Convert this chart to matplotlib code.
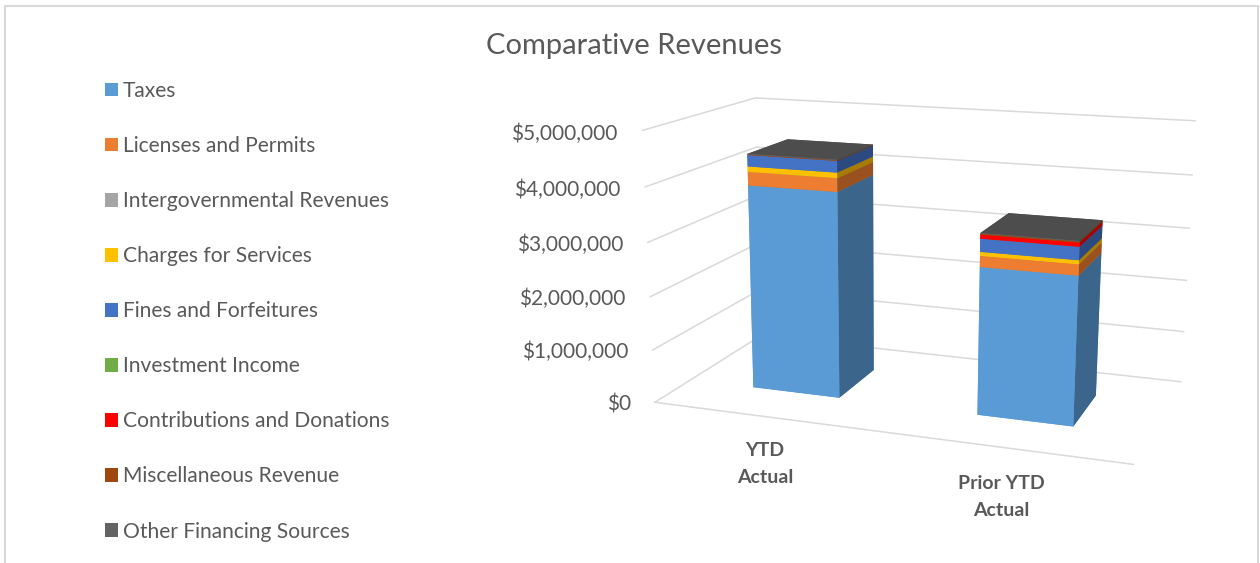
import numpy as np
import matplotlib
matplotlib.use('Agg')
from matplotlib import pyplot as plt
from matplotlib.colors import to_rgb
from matplotlib.patches import Patch, Rectangle
from mpl_toolkits.mplot3d import Axes3D

categories = ['YTD\nActual', 'Prior YTD\nActual']
series_names = ['Taxes', 'Licenses and Permits', 'Intergovernmental Revenues', 'Charges for Services',
                'Fines and Forfeitures', 'Investment Income', 'Contributions and Donations',
                'Miscellaneous Revenue', 'Other Financing Sources']
series_colors = ['#5B9BD5', '#ED7D31', '#A5A5A5', '#FFC000', '#4472C4', '#70AD47', '#FF0000', '#9E480E', '#636363']

taxes = [3860000, 2720000]
licenses = [250000, 200000]
intergov = [0, 0]
charges = [100000, 70000]
fines = [210000, 235000]
investment = [0, 0]
contributions = [0, 70000]
misc = [10000, 20000]
other = [10000, 10000]
all_series = [taxes, licenses, intergov, charges, fines, investment, contributions, misc, other]

y_ticks = [0, 1000000, 2000000, 3000000, 4000000, 5000000]
y_labels = ['$0', '$1,000,000', '$2,000,000', '$3,000,000', '$4,000,000', '$5,000,000']

W, H = 1260, 563
TEXT = '#595959'
GRID = '#D9D9D9'
plt.rcParams['font.family'] = ['Lato', 'DejaVu Sans']

# corners of the chart box, (x, depth, value) -> picture pixels
world = [(0, 0, 0), (0, 0, 5e6), (0, 1, 5e6), (0, 1, 0), (2, 1, 5e6), (2, 1, 0), (2, 0, 0)]
pixels = [(655, 402), (643, 130), (755, 98), (761, 336), (1195, 121), (1181, 381), (1133, 465)]


def fit_camera():
    # plain DLT, z in millions so the numbers stay sane
    rows, rhs = [], []
    for (x, y, z), (u, v) in zip(world, pixels):
        z = z / 1e6
        v = H - v
        rows.append([x, y, z, 1, 0, 0, 0, 0, -u * x, -u * y, -u * z])
        rhs.append(u)
        rows.append([0, 0, 0, 0, x, y, z, 1, -v * x, -v * y, -v * z])
        rhs.append(v)
    p = np.linalg.lstsq(np.array(rows), np.array(rhs), rcond=None)[0]
    P = np.array([p[:4], p[4:8], [p[8], p[9], p[10], 1.0]])
    P[:, 2] /= 1e6
    return P


camera = fit_camera()


def fig_xy(x, y, z):
    # figure fraction of a chart point, for the labels
    u, v, w = camera @ np.array([x, y, z, 1.0])
    return u / w / W, v / w / H


fig = plt.figure(figsize=(W / 100, H / 100), dpi=100, facecolor='white')
side = W / H
ax = fig.add_axes([0, (1 - side) / 2, 1, side], projection='3d', computed_zorder=False)
ax.set_axis_off()
ax.patch.set_visible(False)
ax.set_proj_type('ortho')  # otherwise Line3D drops points with depth > 0


def chart_proj():
    # camera gives display pixels, the axes wants its own 2D data coords
    back = ax.transData.inverted().get_matrix()
    top = back @ camera
    depth = [-0.3, 1.0, -2e-8, 0.0]
    return np.array([top[0], top[1], depth, top[2]])


ax.get_proj = chart_proj

# gridlines on the two walls
for tick in y_ticks:
    ax.plot([0, 0, 2], [0, 1, 1], [tick, tick, tick], color=GRID, lw=1.1, zorder=1)
ax.plot([0, 2], [0, 0], [0, 0], color=GRID, lw=1.1, zorder=1)

# stacked boxes
bar_x = [0.298, 1.299]
bar_y = 0.31
bar_dx = 0.397
bar_dy = 0.39
xs, ys, zs, dxs, dys, dzs, face_colors = [], [], [], [], [], [], []
for i in range(len(categories)):
    bottom = 0
    for vals, col in zip(all_series, series_colors):
        rgb = np.array(to_rgb(col))
        xs.append(bar_x[i])
        ys.append(bar_y)
        zs.append(bottom)
        dxs.append(bar_dx)
        dys.append(bar_dy)
        dzs.append(vals[i])
        bottom += vals[i]
        # -z, +z, -y, +y, -x, +x
        face_colors += [rgb, rgb * 0.78, rgb, rgb, rgb, rgb * 0.65]
ax.bar3d(xs, ys, zs, dxs, dys, dzs, color=face_colors, shade=False, edgecolor='none', zorder=2)

for tick, lab in zip(y_ticks, y_labels):
    fx, fy = fig_xy(-0.115, 0, tick - 95000)
    fig.text(fx, fy, lab, ha='right', va='center', fontsize=15, color=TEXT)
for i, lab in enumerate(categories):
    fx, fy = fig_xy(bar_x[i] + bar_dx / 2, 0, -900000)
    fig.text(fx, fy, lab, ha='center', va='center', fontsize=14, fontweight='bold', color=TEXT,
             linespacing=1.7)

fig.text(634 / W, 1 - 46 / H, 'Comparative Revenues', ha='center', va='center', fontsize=21, color=TEXT)

handles = [Patch(facecolor=c, edgecolor='none', label=n) for c, n in zip(series_colors, series_names)]
fig.legend(handles=handles, loc='upper left', bbox_to_anchor=(105 / W, 1 - 81 / H), frameon=False, ncol=1,
           fontsize=15.1, labelcolor=TEXT, borderpad=0, borderaxespad=0, handlelength=0.62, handleheight=0.62,
           handletextpad=0.23, labelspacing=1.672)

fig.add_artist(Rectangle((5 / W, -0.05), 1253 / W, 1 - 6 / H + 0.05, transform=fig.transFigure, fill=False,
                         edgecolor=GRID, lw=1.5))

fig.savefig('out.png', dpi=100)
